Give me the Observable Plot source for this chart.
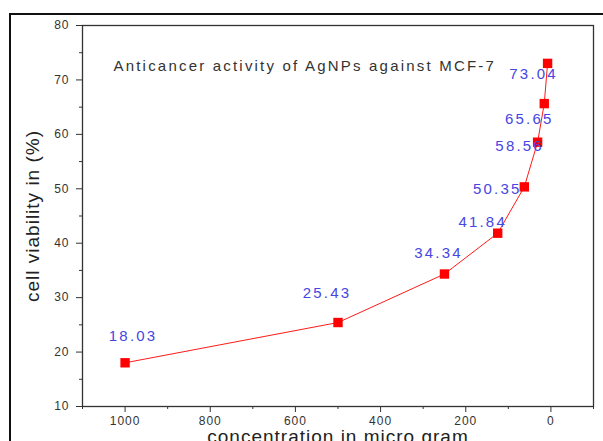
<!DOCTYPE html>
<html>
<head>
<meta charset="utf-8">
<script src="https://cdn.jsdelivr.net/npm/d3@7"></script>
<script src="https://cdn.jsdelivr.net/npm/@observablehq/plot@0.6"></script>
<style>
  html, body { margin: 0; padding: 0; background: #fff; }
  #wrap { position: relative; width: 603px; height: 441px; overflow: hidden; }
  #wrap svg { position: absolute; left: 0; top: 0; }
  #border { position: absolute; left: 9px; top: 13px; right: -5px; bottom: -5px;
            border-top: 2px solid #111; border-left: 2px solid #111; pointer-events: none; }
</style>
</head>
<body>
<div id="wrap"><div id="border"></div></div>
<script>
// Data
const concentration = [1000, 500, 250, 125, 62.5, 31.25, 15.625, 7.8125];
const viability = [18.03, 25.43, 34.34, 41.84, 50.35, 58.56, 65.65, 73.04];
const valueLabels = ["18.03", "25.43", "34.34", "41.84", "50.35", "58.56", "65.65", "73.04"];
const xMajorTicks = [1000, 800, 600, 400, 200, 0];
const xMinorTicks = [1100, 900, 700, 500, 300, 100, -100];
const yMajorTicks = [10, 20, 30, 40, 50, 60, 70, 80];
const yMinorTicks = [15, 25, 35, 45, 55, 65, 75];
const titleText = "Anticancer activity of AgNPs against MCF-7";
const xLabel = "concentration in micro gram";
const yLabel = "cell viability in (%)";

// Label placement offsets (pixels) relative to each point
const labelDx = [8, -11, -6, -15, -27, -18, -15, -14];
const labelDy = [-27, -29, -21, -11, 2, 4, 16, 11];

const points = concentration.map((c, i) => ({x: c, y: viability[i], label: valueLabels[i]}));

const labelMarks = points.map((p, i) => Plot.text([p], {
  x: "x", y: "y", text: "label",
  dx: labelDx[i], dy: labelDy[i],
  fill: "#4646e2", fontSize: 15, textAnchor: "middle"
}));

const chart = Plot.plot({
  width: 603,
  height: 441,
  marginLeft: 82,
  marginRight: 10,
  marginTop: 25,
  marginBottom: 35,
  style: {fontFamily: "'Liberation Sans', Arial, sans-serif", background: "transparent"},
  x: {domain: [1100, -100]},
  y: {domain: [10, 80]},
  marks: [
    Plot.frame({stroke: "#333", strokeWidth: 1.3}),
    Plot.axisX(xMajorTicks, {tickSize: 6, tickPadding: 4, fontSize: 12, color: "#333", label: null, tickFormat: d => String(d)}),
    Plot.axisX(xMinorTicks, {tickSize: 3, color: "#333", label: null, tickFormat: () => ""}),
    Plot.axisY(yMajorTicks, {tickSize: 6, tickPadding: 7, fontSize: 12, color: "#333", label: null, tickFormat: d => String(d)}),
    Plot.axisY(yMinorTicks, {tickSize: 3, color: "#333", label: null, tickFormat: () => ""}),
    Plot.line(points, {x: "x", y: "y", stroke: "#ff1a1a", strokeWidth: 1}),
    Plot.dot(points, {x: "x", y: "y", symbol: "square", r: 5.3, fill: "#ff0000", stroke: "none"}),
    ...labelMarks,
    Plot.text([titleText], {frameAnchor: "top-left", text: d => d, dx: 31, dy: 35, textAnchor: "start", fontSize: 15, fill: "#333"}),
    Plot.text([yLabel], {frameAnchor: "left", text: d => d, rotate: -90, dx: -50, textAnchor: "middle", fontSize: 19, fill: "#222"}),
    Plot.text([xLabel], {frameAnchor: "bottom", text: d => d, dy: 23, lineAnchor: "top", textAnchor: "middle", fontSize: 19, fill: "#222"})
  ]
});

// letter spacing to mimic the original rendering
chart.querySelectorAll("g[aria-label='text'][font-size='15']").forEach(g => g.setAttribute("letter-spacing", "2.2px"));
chart.querySelectorAll("g[aria-label='text'][font-size='19']").forEach(g => g.setAttribute("letter-spacing", "1px"));
chart.querySelectorAll("g[aria-label='x-axis tick label'], g[aria-label='y-axis tick label']").forEach(g => g.setAttribute("letter-spacing", "1px"));

document.getElementById("wrap").prepend(chart);
</script>
</body>
</html>
